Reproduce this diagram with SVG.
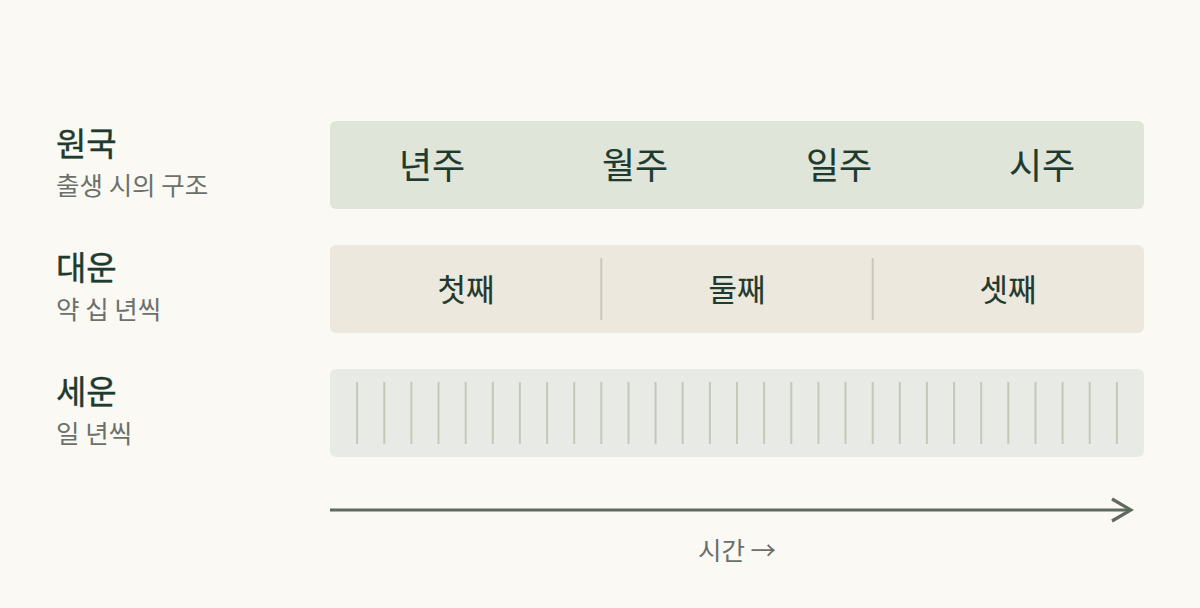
<svg xmlns="http://www.w3.org/2000/svg" width="1200" height="608" viewBox="0 0 1200 608">
<defs>
<style>
.t{font-family:"Noto Sans CJK KR","Noto Sans",sans-serif;font-weight:400;}
.title{font-size:33px;fill:#1f3a2e;stroke:#1f3a2e;stroke-width:0.4px;}
.sub{font-size:25.5px;fill:#6b706a;}
.lbl{font-size:36px;fill:#1f3a2e;stroke:#1f3a2e;stroke-width:0.15px;text-anchor:middle;}
.lbl2{font-size:31px;fill:#1f3a2e;stroke:#1f3a2e;stroke-width:0.15px;text-anchor:middle;}
.tick{stroke:#c2c9b9;stroke-width:2;}
.div{stroke:#c8c8bc;stroke-width:2;}
</style>
<marker id="ah" viewBox="0 0 24 26" refX="21" refY="13" markerWidth="24" markerHeight="26" markerUnits="userSpaceOnUse" orient="auto">
<path d="M2 2 L21 13 L2 24" fill="none" stroke="#5f6a5e" stroke-width="3.2"/>
</marker>
</defs>
<rect width="1200" height="608" fill="#faf9f4"/>
<g id="wonguk">
<text class="t title" x="56" y="156">원국</text>
<text class="t sub" x="56" y="195">출생 시의 구조</text>
<rect x="330" y="121" width="814" height="88" rx="6" fill="#dfe5d8"/>
<text class="t lbl" x="432" y="179">년주</text>
<text class="t lbl" x="635" y="179">월주</text>
<text class="t lbl" x="839" y="179">일주</text>
<text class="t lbl" x="1042" y="179">시주</text>
</g>
<g id="daeun">
<text class="t title" x="56" y="280">대운</text>
<text class="t sub" x="56" y="319">약 십 년씩</text>
<rect x="330" y="245" width="814" height="88" rx="6" fill="#ece8dd"/>
<line class="div" x1="601.3" y1="258" x2="601.3" y2="320"/>
<line class="div" x1="872.7" y1="258" x2="872.7" y2="320"/>
<text class="t lbl2" x="466" y="301">첫째</text>
<text class="t lbl2" x="737" y="301">둘째</text>
<text class="t lbl2" x="1008" y="301">셋째</text>
</g>
<g id="seun">
<text class="t title" x="56" y="404">세운</text>
<text class="t sub" x="56" y="443">일 년씩</text>
<rect x="330" y="369" width="814" height="88" rx="6" fill="#e8eae6"/>
<g class="tick">
<line x1="357.1" y1="382" x2="357.1" y2="444"/>
<line x1="384.3" y1="382" x2="384.3" y2="444"/>
<line x1="411.4" y1="382" x2="411.4" y2="444"/>
<line x1="438.5" y1="382" x2="438.5" y2="444"/>
<line x1="465.7" y1="382" x2="465.7" y2="444"/>
<line x1="492.8" y1="382" x2="492.8" y2="444"/>
<line x1="519.9" y1="382" x2="519.9" y2="444"/>
<line x1="547.1" y1="382" x2="547.1" y2="444"/>
<line x1="574.2" y1="382" x2="574.2" y2="444"/>
<line x1="601.3" y1="382" x2="601.3" y2="444"/>
<line x1="628.5" y1="382" x2="628.5" y2="444"/>
<line x1="655.6" y1="382" x2="655.6" y2="444"/>
<line x1="682.7" y1="382" x2="682.7" y2="444"/>
<line x1="709.9" y1="382" x2="709.9" y2="444"/>
<line x1="737.0" y1="382" x2="737.0" y2="444"/>
<line x1="764.1" y1="382" x2="764.1" y2="444"/>
<line x1="791.3" y1="382" x2="791.3" y2="444"/>
<line x1="818.4" y1="382" x2="818.4" y2="444"/>
<line x1="845.5" y1="382" x2="845.5" y2="444"/>
<line x1="872.7" y1="382" x2="872.7" y2="444"/>
<line x1="899.8" y1="382" x2="899.8" y2="444"/>
<line x1="926.9" y1="382" x2="926.9" y2="444"/>
<line x1="954.1" y1="382" x2="954.1" y2="444"/>
<line x1="981.2" y1="382" x2="981.2" y2="444"/>
<line x1="1008.3" y1="382" x2="1008.3" y2="444"/>
<line x1="1035.5" y1="382" x2="1035.5" y2="444"/>
<line x1="1062.6" y1="382" x2="1062.6" y2="444"/>
<line x1="1089.7" y1="382" x2="1089.7" y2="444"/>
<line x1="1116.9" y1="382" x2="1116.9" y2="444"/>
</g>
</g>
<g id="connectors">
<line x1="330" y1="510" x2="1131" y2="510" stroke="#5f6a5e" stroke-width="3" marker-end="url(#ah)"/>
</g>
<g id="time-label">
<text class="t sub" x="737" y="560" text-anchor="middle">시간 →</text>
</g>
</svg>
